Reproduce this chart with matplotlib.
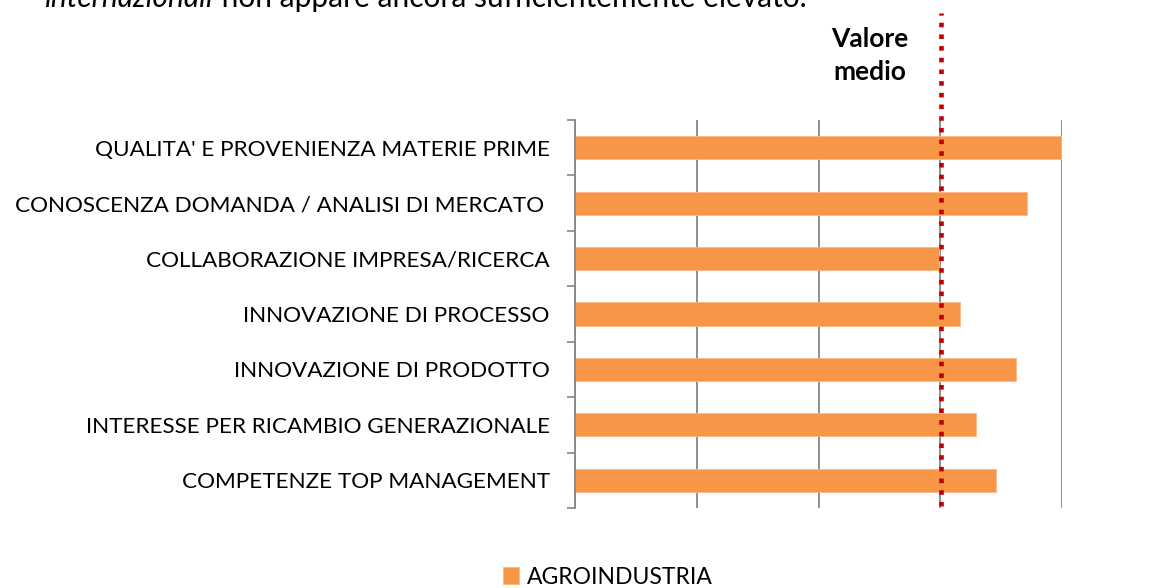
import matplotlib
matplotlib.use("Agg")
import matplotlib.pyplot as plt

categories = [
    "QUALITA' E PROVENIENZA MATERIE PRIME ",
    "CONOSCENZA DOMANDA / ANALISI DI MERCATO  ",
    "COLLABORAZIONE IMPRESA/RICERCA ",
    "INNOVAZIONE DI PROCESSO ",
    "INNOVAZIONE DI PRODOTTO ",
    "INTERESSE PER RICAMBIO GENERAZIONALE ",
    "COMPETENZE TOP MANAGEMENT ",
]
values = [3.99, 3.71, 2.99, 3.165, 3.62, 3.29, 3.46]
mean_value = 3.01
series_name = "AGROINDUSTRIA"
x_ticks = [0, 1, 2, 3, 4]

FONT = ["Lato", "DejaVu Sans"]
plt.rcParams["font.family"] = FONT

W, H = 1171, 588
fig = plt.figure(figsize=(W / 100, H / 100), dpi=100)
ax = fig.add_axes([575 / W, 1 - 508 / H, (1062 - 575) / W, (508 - 120) / H])

ypos = list(range(len(categories)))
bars = ax.barh(ypos, values, height=0.42, color="#F79646",
               edgecolor="#FAB985", linewidth=0.6, label=series_name, zorder=2)
ax.set_ylim(len(categories) - 0.5, -0.5)
ax.set_xlim(0, 4)

ax.set_yticks(ypos)
ax.set_yticklabels(categories, fontsize=16.2, color="#000000")
ax.set_yticks([i - 0.5 for i in range(len(categories) + 1)], minor=True)
ax.tick_params(axis="y", which="major", length=0, pad=14)
ax.tick_params(axis="y", which="minor", length=6, width=1.2, color="#868686")

ax.set_xticks(x_ticks)
ax.set_xticklabels([])
ax.tick_params(axis="x", length=0)
ax.grid(axis="x", color="#868686", linewidth=1.3, zorder=1)
ax.set_axisbelow(True)

for s in ["top", "right", "bottom"]:
    ax.spines[s].set_visible(False)
ax.spines["left"].set_color("#868686")
ax.spines["left"].set_linewidth(1.3)

# mean line (dotted, extends above plot area)
ymax = (508 - 13) / (508 - 120)
ax.axvline(mean_value, ymin=0.005, ymax=ymax, color="#C00000", linewidth=3.3,
           linestyle=(0, (1.0, 1.55)), dash_capstyle="butt", clip_on=False, zorder=3)

fig.text(870 / W, 1 - 27 / H, "Valore\nmedio", ha="center", va="top",
         fontsize=19, fontweight="bold", linespacing=1.45)

# top text, cut off at the top edge as in the reference
t1 = fig.text(45 / W, 1 - 7 / H, "internazionali", fontsize=21.5, style="italic",
              va="baseline", ha="left")
ax.annotate(" non appare ancora sufficientemente elevato.", xy=(1, 0),
            xycoords=t1, va="bottom", ha="left", fontsize=21.5,
            annotation_clip=False)

leg = fig.legend(handles=[bars], labels=[series_name], loc="center",
                 bbox_to_anchor=(608 / W, 1 - 577 / H), frameon=False,
                 fontsize=16.5, handlelength=0.7, handleheight=0.7,
                 handletextpad=0.35, borderpad=0.1)

fig.savefig("out.png", dpi=100)
